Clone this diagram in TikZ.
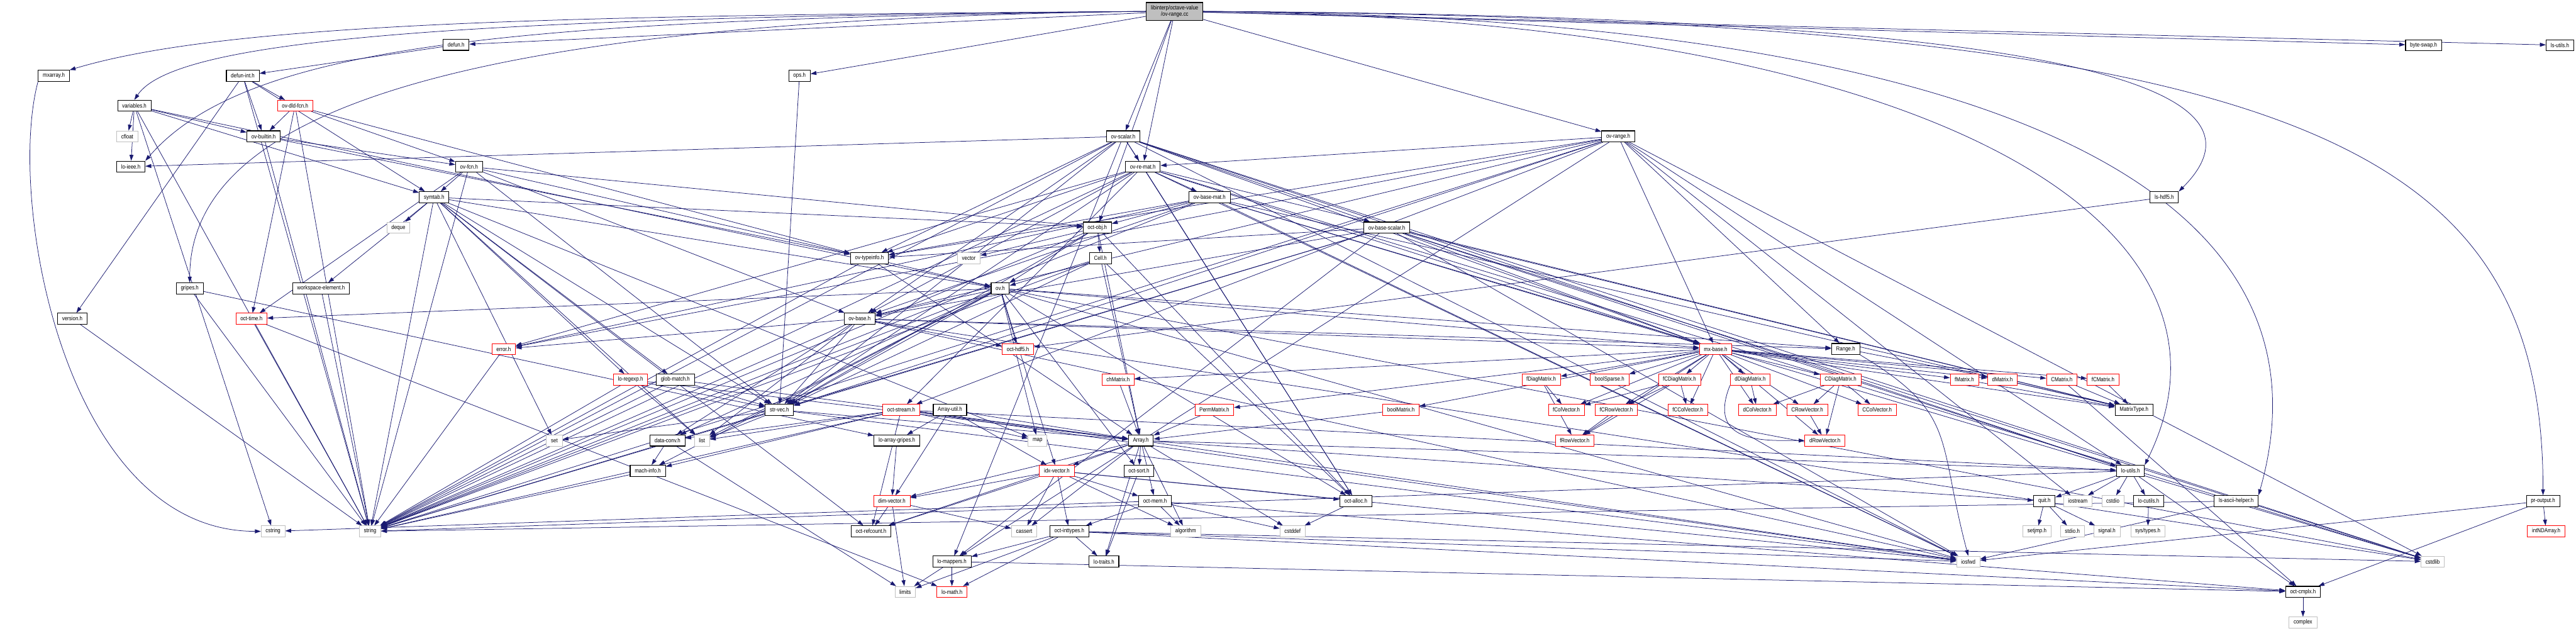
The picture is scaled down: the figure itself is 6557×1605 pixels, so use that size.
\documentclass[tikz,border=0pt]{standalone}
\usepackage{fontspec}
\newfontfamily\dotfont{Liberation Sans}[FakeStretch=0.85]
\usepackage{tikz}
\usetikzlibrary{arrows.meta}
\definecolor{DoxNavy}{HTML}{191970}
\definecolor{DoxGrey}{HTML}{BFBFBF}
\definecolor{DoxRed}{HTML}{FF0000}
\pgfdeclarelayer{paper}
\pgfdeclarelayer{wires}
\pgfsetlayers{paper,wires,main}

\begin{document}
\begin{tikzpicture}[
  x=0.5pt, y=-0.5pt,
  every node/.style={font=\dotfont\fontsize{7.5}{8.7}\selectfont},
  hdr/.style={draw=#1, fill=white, rectangle, minimum height=14pt, inner xsep=5.8pt, inner ysep=2pt, line width=0.6pt},
  known/.style={hdr=black, line width=0.9pt},
  trunc/.style={hdr=DoxRed},
  sys/.style={hdr=DoxGrey},
  dep/.style={-{Triangle[length=7.5pt,width=5pt]}, line width=0.6pt, color=DoxNavy}
]
\useasboundingbox (0,0) rectangle (6557,1605);
\begin{pgfonlayer}{paper}
\fill[white] (0,0) rectangle (6557,1605);
\end{pgfonlayer}

\node[known, fill=DoxGrey, align=center, minimum height=22.5pt] (ovrangecc) at (2990,29) {libinterp/octave-value\\/ov-range.cc};

\node[known] (defun) at (1161,114) {defun.h};
\node[known] (byteswap) at (6169,115) {byte-swap.h};
\node[known] (lsutils) at (6516,115) {ls-utils.h};

\node[known] (mxarray) at (137,193) {mxarray.h};
\node[known] (defunint) at (618,193) {defun-int.h};
\node[known] (opsh) at (2035,193) {ops.h};

\node[known] (variables) at (342,269) {variables.h};
\node[trunc] (ovdldfcn) at (751,269) {ov-dld-fcn.h};

\node[sys] (cfloat) at (324,347) {cfloat};
\node[known] (ovbuiltin) at (671,347) {ov-builtin.h};
\node[known] (ovscalar) at (2859,347) {ov-scalar.h};
\node[known] (ovrangeh) at (4119,347) {ov-range.h};

\node[known] (loieee) at (333,424) {lo-ieee.h};
\node[known] (ovfcn) at (1194,424) {ov-fcn.h};
\node[known] (ovremat) at (2909,424) {ov-re-mat.h};

\node[known] (symtab) at (1105,502) {symtab.h};
\node[known] (ovbasemat) at (3079,502) {ov-base-mat.h};
\node[known] (lshdf5) at (5509,502) {ls-hdf5.h};

\node[sys] (deque) at (1014,579) {deque};
\node[known] (octobj) at (2793,579) {oct-obj.h};
\node[known] (ovbasescalar) at (3530,579) {ov-base-scalar.h};

\node[known] (ovtypeinfo) at (2213,657) {ov-typeinfo.h};
\node[sys] (vector) at (2466,657) {vector};
\node[known] (cell) at (2801,657) {Cell.h};

\node[known] (gripes) at (483,734) {gripes.h};
\node[known] (wselem) at (817,734) {workspace-element.h};
\node[known] (ovh) at (2546,734) {ov.h};

\node[known] (version) at (184,811) {version.h};
\node[trunc] (octtime) at (640,811) {oct-time.h};
\node[known] (ovbase) at (2188,811) {ov-base.h};

\node[trunc] (error) at (1282,888) {error.h};
\node[trunc] (octhdf5) at (2591,888) {oct-hdf5.h};
\node[trunc] (mxbase) at (4367,888) {mx-base.h};
\node[known] (range) at (4698,888) {Range.h};

\node[trunc] (loregexp) at (1605,966) {lo-regexp.h};
\node[known] (globmatch) at (1719,966) {glob-match.h};
\node[trunc] (chmatrix) at (2846,966) {chMatrix.h};
\node[trunc] (fdiagmatrix) at (3923,966) {fDiagMatrix.h};
\node[trunc] (boolsparse) at (4097,966) {boolSparse.h};
\node[trunc] (fcdiagmatrix) at (4275,966) {fCDiagMatrix.h};
\node[trunc] (ddiagmatrix) at (4455,966) {dDiagMatrix.h};
\node[trunc] (cdiagmatrix) at (4685,966) {CDiagMatrix.h};
\node[trunc] (fmatrix) at (5000,966) {fMatrix.h};
\node[trunc] (dmatrix) at (5097,966) {dMatrix.h};
\node[trunc] (cmatrix) at (5248,966) {CMatrix.h};
\node[trunc] (fcmatrix) at (5353,966) {fCMatrix.h};

\node[known] (strvec) at (1984,1043) {str-vec.h};
\node[trunc] (octstream) at (2294,1043) {oct-stream.h};
\node[known] (arrayutil) at (2418,1043) {Array-util.h};
\node[trunc] (permmatrix) at (3091,1043) {PermMatrix.h};
\node[trunc] (boolmatrix) at (3566,1043) {boolMatrix.h};
\node[trunc] (fcolvector) at (3987,1043) {fColVector.h};
\node[trunc] (fcrowvector) at (4114,1043) {fCRowVector.h};
\node[trunc] (fccolvector) at (4296,1043) {fCColVector.h};
\node[trunc] (dcolvector) at (4473,1043) {dColVector.h};
\node[trunc] (crowvector) at (4600,1043) {CRowVector.h};
\node[trunc] (ccolvector) at (4778,1043) {CColVector.h};
\node[known] (matrixtype) at (5432,1043) {MatrixType.h};

\node[sys] (set) at (1411,1121) {set};
\node[known] (dataconv) at (1699,1121) {data-conv.h};
\node[sys] (list) at (1787,1121) {list};
\node[known] (loarraygripes) at (2283,1121) {lo-array-gripes.h};
\node[sys] (map) at (2641,1121) {map};
\node[known] (array) at (2904,1121) {Array.h};
\node[trunc] (frowvector) at (4008,1121) {fRowVector.h};
\node[trunc] (drowvector) at (4645,1121) {dRowVector.h};

\node[known] (machinfo) at (1649,1198) {mach-info.h};
\node[trunc] (idxvector) at (2690,1198) {idx-vector.h};
\node[known] (octsort) at (2899,1198) {oct-sort.h};
\node[known] (loutils) at (5423,1198) {lo-utils.h};

\node[trunc] (dimvector) at (2270,1275) {dim-vector.h};
\node[known] (octmem) at (2940,1275) {oct-mem.h};
\node[known] (octalloc) at (3451,1275) {oct-alloc.h};
\node[known] (quit) at (5204,1275) {quit.h};
\node[sys] (iostream) at (5289,1275) {iostream};
\node[sys] (cstdio) at (5378,1275) {cstdio};
\node[known] (locutils) at (5469,1275) {lo-cutils.h};
\node[known] (lsascii) at (5692,1275) {ls-ascii-helper.h};
\node[known] (proutput) at (6473,1275) {pr-output.h};

\node[sys] (cstring) at (695,1352) {cstring};
\node[sys] (string) at (942,1352) {string};
\node[known] (octrefcount) at (2217,1352) {oct-refcount.h};
\node[sys] (cassert) at (2607,1352) {cassert};
\node[known] (octinttypes) at (2722,1352) {oct-inttypes.h};
\node[sys] (algorithm) at (3018,1352) {algorithm};
\node[sys] (cstddef) at (3290,1352) {cstddef};
\node[sys] (setjmp) at (5185,1352) {setjmp.h};
\node[sys] (stdioh) at (5275,1352) {stdio.h};
\node[sys] (signalh) at (5363,1352) {signal.h};
\node[sys] (systypes) at (5467,1352) {sys/types.h};
\node[trunc] (intndarray) at (6481,1352) {intNDArray.h};

\node[known] (lomappers) at (2423,1429) {lo-mappers.h};
\node[known] (lotraits) at (2810,1429) {lo-traits.h};
\node[sys] (iosfwd) at (5010,1429) {iosfwd};
\node[sys] (cstdlib) at (6192,1429) {cstdlib};

\node[sys] (limits) at (2304,1506) {limits};
\node[trunc] (lomath) at (2423,1506) {lo-math.h};
\node[known] (octcmplx) at (5862,1506) {oct-cmplx.h};

\node[sys] (complex) at (5862,1584) {complex};

\begin{pgfonlayer}{wires}
\draw[dep] (ovrangecc.west) .. controls +(-1500,10) and +(400,-120) .. (mxarray.north east);
\draw[dep] (ovrangecc.west) .. controls +(-1800,15) and +(100,-150) .. (variables.north);
\draw[dep] (ovrangecc.west) .. controls +(-1600,20) and +(260,-300) .. (loieee.north east);
\draw[dep] (ovrangecc.west) .. controls +(-1700,20) and +(0,-450) .. (gripes.north);
\draw[dep] (ovrangecc) -- (defun);
\draw[dep] (ovrangecc) -- (opsh);
\draw[dep] (ovrangecc) -- (ovscalar);
\draw[dep] (ovrangecc) -- (ovremat);
\draw[dep] (ovrangecc) -- (octobj);
\draw[dep] (ovrangecc) -- (ovrangeh);
\draw[dep] (ovrangecc) -- (byteswap);
\draw[dep] (ovrangecc) -- (lsutils);
\draw[dep] (ovrangecc.east) .. controls +(2000,10) and +(300,-300) .. (lshdf5.north east);
\draw[dep] (ovrangecc.east) .. controls +(2200,15) and +(200,-700) .. (lsascii.north east);
\draw[dep] (ovrangecc.east) .. controls +(1900,20) and +(300,-600) .. (loutils.north east);
\draw[dep] (ovrangecc.east) .. controls +(2800,20) and +(0,-900) .. (proutput.north);

\draw[dep] (defun) -- (defunint);
\draw[dep] (defunint) -- (ovbuiltin); \draw[dep] (defunint) -- (ovdldfcn); \draw[dep] (defunint) -- (symtab);
\draw[dep] (defunint) -- (version); \draw[dep] (defunint) -- (string);
\draw[dep] (mxarray.south west) .. controls +(-80,300) and +(-500,0) .. (cstring.west);
\draw[dep] (variables) -- (cfloat); \draw[dep] (variables) -- (loieee); \draw[dep] (variables) -- (ovbuiltin);
\draw[dep] (variables) -- (symtab); \draw[dep] (variables) -- (ovh); \draw[dep] (variables) -- (string);
\draw[dep] (variables) -- (cstring);
\draw[dep] (ovdldfcn) -- (ovbuiltin); \draw[dep] (ovdldfcn) -- (ovfcn); \draw[dep] (ovdldfcn) -- (ovtypeinfo);
\draw[dep] (ovdldfcn) -- (string); \draw[dep] (ovdldfcn) -- (octtime);
\draw[dep] (ovbuiltin) -- (ovfcn); \draw[dep] (ovbuiltin) -- (ovtypeinfo); \draw[dep] (ovbuiltin) -- (string);
\draw[dep] (symtab) -- (deque); \draw[dep] (symtab) -- (wselem); \draw[dep] (symtab) -- (globmatch);
\draw[dep] (symtab) -- (loregexp); \draw[dep] (symtab) -- (strvec); \draw[dep] (symtab) -- (list);
\draw[dep] (symtab) -- (map); \draw[dep] (symtab) -- (set); \draw[dep] (symtab) -- (string);
\draw[dep] (symtab) -- (ovh); \draw[dep] (symtab) -- (octobj); \draw[dep] (symtab) -- (octrefcount);
\draw[dep] (ovfcn) -- (symtab); \draw[dep] (ovfcn) -- (string); \draw[dep] (ovfcn) -- (octtime);
\draw[dep] (ovfcn) -- (strvec); \draw[dep] (ovfcn) -- (ovbase); \draw[dep] (ovfcn) -- (ovtypeinfo);
\draw[dep] (ovfcn) -- (octobj);
\draw[dep] (gripes) -- (string); \draw[dep] (gripes) -- (loarraygripes);
\draw[dep] (wselem) -- (string);
\draw[dep] (opsh) -- (strvec);

\draw[dep] (ovscalar) -- (ovremat); \draw[dep] (ovscalar) -- (ovbasescalar); \draw[dep] (ovscalar) -- (ovtypeinfo);
\draw[dep] (ovscalar) -- (ovbase); \draw[dep] (ovscalar) -- (mxbase); \draw[dep] (ovscalar) -- (octalloc);
\draw[dep] (ovscalar) -- (strvec); \draw[dep] (ovscalar) -- (loieee); \draw[dep] (ovscalar) -- (lomappers);
\draw[dep] (ovscalar) -- (loutils); \draw[dep] (ovscalar) -- (string); \draw[dep] (ovscalar) -- (iosfwd);
\draw[dep] (ovscalar) -- (cstdlib);
\draw[dep] (ovremat) -- (ovbasemat); \draw[dep] (ovremat) -- (ovtypeinfo); \draw[dep] (ovremat) -- (ovbase);
\draw[dep] (ovremat) -- (mxbase); \draw[dep] (ovremat) -- (matrixtype); \draw[dep] (ovremat) -- (octalloc);
\draw[dep] (ovremat) -- (strvec); \draw[dep] (ovremat) -- (error); \draw[dep] (ovremat) -- (octstream);
\draw[dep] (ovremat) -- (string); \draw[dep] (ovremat) -- (iosfwd); \draw[dep] (ovremat) -- (cstdlib);
\draw[dep] (ovbasemat) -- (octobj); \draw[dep] (ovbasemat) -- (ovtypeinfo); \draw[dep] (ovbasemat) -- (ovbase);
\draw[dep] (ovbasemat) -- (mxbase); \draw[dep] (ovbasemat) -- (matrixtype); \draw[dep] (ovbasemat) -- (error);
\draw[dep] (ovbasemat) -- (string); \draw[dep] (ovbasemat) -- (iosfwd); \draw[dep] (ovbasemat) -- (cstdlib);
\draw[dep] (ovbasescalar) -- (ovbase); \draw[dep] (ovbasescalar) -- (ovtypeinfo); \draw[dep] (ovbasescalar) -- (mxbase);
\draw[dep] (ovbasescalar) -- (matrixtype); \draw[dep] (ovbasescalar) -- (strvec); \draw[dep] (ovbasescalar) -- (lomappers);
\draw[dep] (ovbasescalar) -- (loutils); \draw[dep] (ovbasescalar) -- (string); \draw[dep] (ovbasescalar) -- (iosfwd);
\draw[dep] (ovbasescalar) -- (cstdlib);
\draw[dep] (ovrangeh) -- (range); \draw[dep] (ovrangeh) -- (ovbase); \draw[dep] (ovrangeh) -- (ovremat);
\draw[dep] (ovrangeh) -- (ovtypeinfo); \draw[dep] (ovrangeh) -- (mxbase); \draw[dep] (ovrangeh) -- (strvec);
\draw[dep] (ovrangeh) -- (lomappers); \draw[dep] (ovrangeh) -- (loutils); \draw[dep] (ovrangeh) -- (error);
\draw[dep] (ovrangeh) -- (octstream); \draw[dep] (ovrangeh) -- (string); \draw[dep] (ovrangeh) -- (iostream);
\draw[dep] (ovrangeh) -- (cstdlib);

\draw[dep] (octobj) -- (vector); \draw[dep] (octobj) -- (cell); \draw[dep] (octobj) -- (ovh);
\draw[dep] (octobj) -- (array); \draw[dep] (octobj) -- (octalloc); \draw[dep] (octobj) -- (strvec);
\draw[dep] (octobj) -- (string);
\draw[dep] (cell) -- (ovh); \draw[dep] (cell) -- (array); \draw[dep] (cell) -- (octalloc);
\draw[dep] (cell) -- (strvec); \draw[dep] (cell) -- (string);
\draw[dep] (ovtypeinfo) -- (ovh); \draw[dep] (ovtypeinfo) -- (array); \draw[dep] (ovtypeinfo) -- (string);
\draw[dep] (ovh) -- (ovbase); \draw[dep] (ovh) -- (range); \draw[dep] (ovh) -- (dataconv);
\draw[dep] (ovh) -- (idxvector); \draw[dep] (ovh) -- (machinfo); \draw[dep] (ovh) -- (mxbase);
\draw[dep] (ovh) -- (octalloc); \draw[dep] (ovh) -- (octtime); \draw[dep] (ovh) -- (strvec);
\draw[dep] (ovh) -- (octhdf5); \draw[dep] (ovh) -- (octsort); \draw[dep] (ovh) -- (list);
\draw[dep] (ovh) -- (map); \draw[dep] (ovh) -- (string); \draw[dep] (ovh) -- (iosfwd);
\draw[dep] (ovh) -- (cstdlib);
\draw[dep] (ovbase) -- (range); \draw[dep] (ovbase) -- (dataconv); \draw[dep] (ovbase) -- (mxbase);
\draw[dep] (ovbase) -- (strvec); \draw[dep] (ovbase) -- (error); \draw[dep] (ovbase) -- (octhdf5);
\draw[dep] (ovbase) -- (list); \draw[dep] (ovbase) -- (string); \draw[dep] (ovbase) -- (iosfwd);
\draw[dep] (ovbase) -- (cstdlib);

\draw[dep] (octstream) -- (array); \draw[dep] (octstream) -- (dataconv); \draw[dep] (octstream) -- (loutils);
\draw[dep] (octstream) -- (machinfo); \draw[dep] (octstream) -- (octrefcount); \draw[dep] (octstream) -- (list);
\draw[dep] (octstream) -- (map); \draw[dep] (octstream) -- (string); \draw[dep] (octstream) -- (iosfwd);
\draw[dep] (arrayutil) -- (array); \draw[dep] (arrayutil) -- (dimvector); \draw[dep] (arrayutil) -- (idxvector);
\draw[dep] (arrayutil) -- (loarraygripes);
\draw[dep] (loarraygripes) -- (dimvector);
\draw[dep] (array) -- (dimvector); \draw[dep] (array) -- (idxvector); \draw[dep] (array) -- (lotraits);
\draw[dep] (array) -- (loutils); \draw[dep] (array) -- (octsort); \draw[dep] (array) -- (quit);
\draw[dep] (array) -- (octmem); \draw[dep] (array) -- (octrefcount); \draw[dep] (array) -- (cassert);
\draw[dep] (array) -- (cstddef); \draw[dep] (array) -- (algorithm); \draw[dep] (array) -- (iosfwd);
\draw[dep] (idxvector) -- (dimvector); \draw[dep] (idxvector) -- (octinttypes); \draw[dep] (idxvector) -- (octalloc);
\draw[dep] (idxvector) -- (octmem); \draw[dep] (idxvector) -- (octrefcount); \draw[dep] (idxvector) -- (cassert);
\draw[dep] (idxvector) -- (algorithm); \draw[dep] (idxvector) -- (iosfwd);
\draw[dep] (octsort) -- (lotraits);
\draw[dep] (dimvector) -- (octrefcount); \draw[dep] (dimvector) -- (cassert); \draw[dep] (dimvector) -- (limits);
\draw[dep] (octmem) -- (octinttypes); \draw[dep] (octmem) -- (cstddef); \draw[dep] (octmem) -- (cstring);
\draw[dep] (octmem) -- (algorithm); \draw[dep] (octmem) -- (octcmplx);
\draw[dep] (octinttypes) -- (lotraits); \draw[dep] (octinttypes) -- (lomath); \draw[dep] (octinttypes) -- (lomappers);
\draw[dep] (octinttypes) -- (limits); \draw[dep] (octinttypes) -- (iosfwd); \draw[dep] (octinttypes) -- (cstdlib);
\draw[dep] (octinttypes) -- (octcmplx);
\draw[dep] (lomappers) -- (limits); \draw[dep] (lomappers) -- (lomath); \draw[dep] (lomappers) -- (octcmplx);
\draw[dep] (chmatrix) -- (array); \draw[dep] (permmatrix) -- (array); \draw[dep] (boolmatrix) -- (array);

\draw[dep] (mxbase) -- (matrixtype); \draw[dep] (mxbase) -- (boolmatrix); \draw[dep] (mxbase) -- (chmatrix);
\draw[dep] (mxbase) -- (permmatrix); \draw[dep] (mxbase) -- (boolsparse); \draw[dep] (mxbase) -- (dmatrix);
\draw[dep] (mxbase) -- (cmatrix); \draw[dep] (mxbase) -- (fmatrix); \draw[dep] (mxbase) -- (fcmatrix);
\draw[dep] (mxbase) -- (dcolvector); \draw[dep] (mxbase) -- (ccolvector); \draw[dep] (mxbase) -- (fcolvector);
\draw[dep] (mxbase) -- (fccolvector); \draw[dep] (mxbase) -- (drowvector); \draw[dep] (mxbase) -- (crowvector);
\draw[dep] (mxbase) -- (frowvector); \draw[dep] (mxbase) -- (fcrowvector); \draw[dep] (mxbase) -- (ddiagmatrix);
\draw[dep] (mxbase) -- (cdiagmatrix); \draw[dep] (mxbase) -- (fdiagmatrix); \draw[dep] (mxbase) -- (fcdiagmatrix);
\draw[dep] (range) -- (dmatrix);
\draw[dep] (range.south east) .. controls +(250,150) and +(-80,-300) .. (iosfwd.north);
\draw[dep] (fdiagmatrix) -- (fcolvector); \draw[dep] (fdiagmatrix) -- (frowvector);
\draw[dep] (fcdiagmatrix) -- (fcolvector); \draw[dep] (fcdiagmatrix) -- (fcrowvector);
\draw[dep] (fcdiagmatrix) -- (fccolvector); \draw[dep] (fcdiagmatrix) -- (frowvector);
\draw[dep] (ddiagmatrix) -- (dcolvector);
\draw[dep] (ddiagmatrix.south west) .. controls +(-60,150) and +(-100,0) .. (drowvector.west);
\draw[dep] (cdiagmatrix) -- (dcolvector); \draw[dep] (cdiagmatrix) -- (crowvector);
\draw[dep] (cdiagmatrix) -- (ccolvector); \draw[dep] (cdiagmatrix) -- (drowvector);
\draw[dep] (crowvector) -- (drowvector); \draw[dep] (fcrowvector) -- (frowvector);
\draw[dep] (dmatrix) -- (matrixtype); \draw[dep] (fmatrix) -- (matrixtype);
\draw[dep] (cmatrix) -- (matrixtype); \draw[dep] (cmatrix) -- (octcmplx); \draw[dep] (fcmatrix) -- (matrixtype);

\draw[dep] (loutils) -- (quit); \draw[dep] (loutils) -- (iostream); \draw[dep] (loutils) -- (cstdio);
\draw[dep] (loutils) -- (locutils); \draw[dep] (loutils) -- (octcmplx); \draw[dep] (loutils) -- (string);
\draw[dep] (quit) -- (setjmp); \draw[dep] (quit) -- (stdioh); \draw[dep] (quit) -- (signalh);
\draw[dep] (locutils) -- (systypes);
\draw[dep] (lsascii) -- (iosfwd); \draw[dep] (lsascii) -- (string);
\draw[dep] (proutput) -- (iosfwd); \draw[dep] (proutput) -- (octcmplx); \draw[dep] (proutput) -- (intndarray);
\draw[dep] (octcmplx) -- (complex);
\draw[dep] (lshdf5) -- (octhdf5);
\draw[dep] (dataconv) -- (machinfo); \draw[dep] (dataconv) -- (limits);
\draw[dep] (machinfo) -- (string);
\draw[dep] (strvec) -- (array); \draw[dep] (strvec) -- (list); \draw[dep] (strvec) -- (set);
\draw[dep] (strvec) -- (string); \draw[dep] (strvec) -- (iosfwd);
\draw[dep] (globmatch) -- (strvec); \draw[dep] (globmatch) -- (array); \draw[dep] (globmatch) -- (string);
\draw[dep] (loregexp) -- (strvec); \draw[dep] (loregexp) -- (list); \draw[dep] (loregexp) -- (array);
\draw[dep] (loregexp) -- (string);
\draw[dep] (error) -- (string);
\draw[dep] (octtime) -- (lomath); \draw[dep] (octtime) -- (string);
\draw[dep] (version) -- (string);
\draw[dep] (octalloc) -- (cstddef);
\end{pgfonlayer}
\end{tikzpicture}
\end{document}
